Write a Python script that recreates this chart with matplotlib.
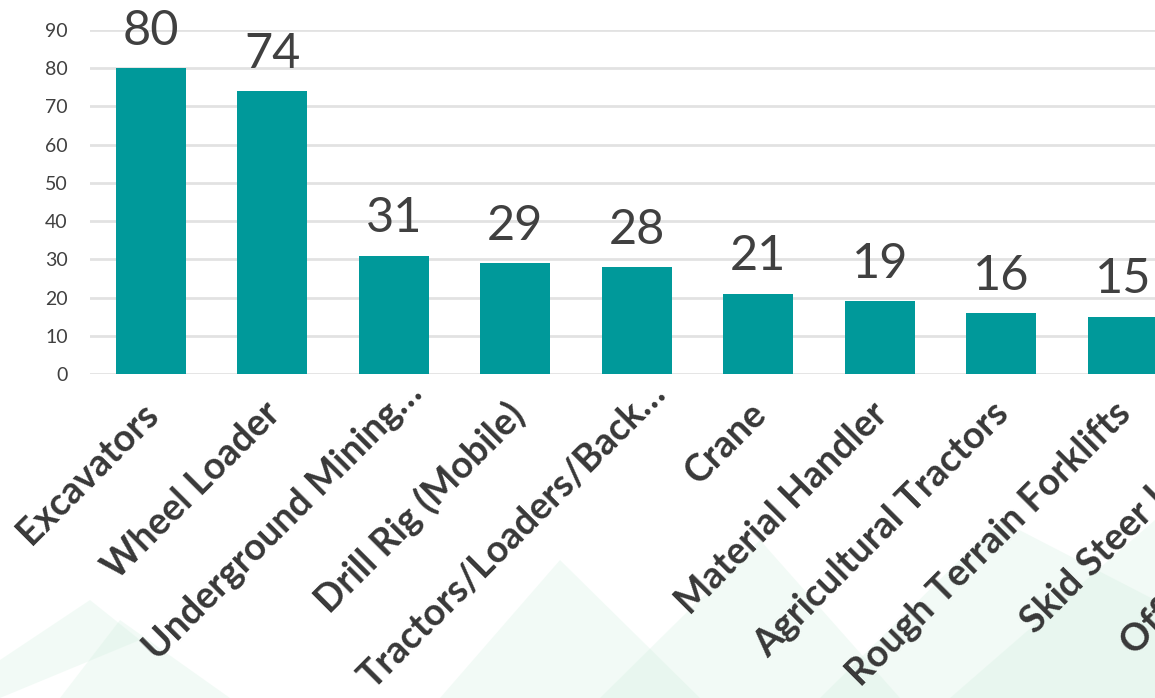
import matplotlib.pyplot as plt
from matplotlib.patches import Polygon

categories = ['Excavators', 'Wheel Loader', 'Underground Mining\u2026', 'Drill Rig (Mobile)',
              'Tractors/Loaders/Back\u2026', 'Crane', 'Material Handler', 'Agricultural Tractors',
              'Rough Terrain Forklifts', 'Skid Steer Loaders', 'Off-Highway Trucks']
counts = [80, 74, 31, 29, 28, 21, 19, 16, 15, 14, 12]
yticks = [0, 10, 20, 30, 40, 50, 60, 70, 80, 90]

W, H = 1155, 698
fig = plt.figure(figsize=(W / 100, H / 100), dpi=100)
fig.patch.set_facecolor('white')

# faint green diagonal shapes in the background
bg = fig.add_axes([0, 0, 1, 1], zorder=0)
bg.set_xlim(0, W)
bg.set_ylim(H, 0)
bg.axis('off')
shapes = [
    [(60, 698), (120, 620), (230, 698)],
    [(0, 698), (0, 660), (90, 600), (140, 640)],
    [(440, 698), (560, 560), (700, 698)],
    [(600, 698), (760, 540), (900, 698)],
    [(820, 698), (1000, 520), (1155, 600), (1155, 698)],
    [(950, 698), (1155, 520), (1155, 698)],
]
for pts in shapes:
    bg.add_patch(Polygon(pts, closed=True, facecolor='#cdeedc', edgecolor='none', alpha=0.25))

left = 90 / W
ax = fig.add_axes([left, (H - 374) / H, 1 - left, (374 - 30) / H], zorder=1)
ax.patch.set_alpha(0)

x = list(range(len(categories)))
ax.bar(x, counts, width=0.576, color='#00999a', zorder=3)
for xi, v in zip(x, counts):
    ax.annotate(str(v), (xi, v), xytext=(0, 11), textcoords='offset points',
                ha='center', va='bottom', fontsize=35, color='#404040', family='Lato')

# category labels drawn as text so the ones past the right edge still show
ax.set_xticks([])
for xi, name in zip(x, categories):
    off = (-7, -16)
    if name.endswith('\u2026'):
        # truncated labels run a bit further past their tick
        off = (8, -1)
    ax.annotate(name, (xi, 0), xytext=off, textcoords='offset points',
                ha='right', va='top', rotation=45, rotation_mode='anchor',
                fontsize=27, color='#383838', family='Lato', fontweight='bold',
                annotation_clip=False)

ax.set_xlim(-0.5, (W - 90) / 121.5 - 0.5)
ax.set_ylim(0, 90)
ax.set_yticks(yticks)
ax.yaxis.grid(True, color='#e2e2e2', linewidth=2, zorder=0)
ax.set_axisbelow(True)
for s in ax.spines.values():
    s.set_visible(False)
ax.tick_params(axis='both', length=0)
ax.tick_params(axis='y', labelsize=14, labelcolor='#404040', pad=16)
for lab in ax.get_yticklabels():
    lab.set_family('Lato')

fig.savefig('out.png', dpi=100)
